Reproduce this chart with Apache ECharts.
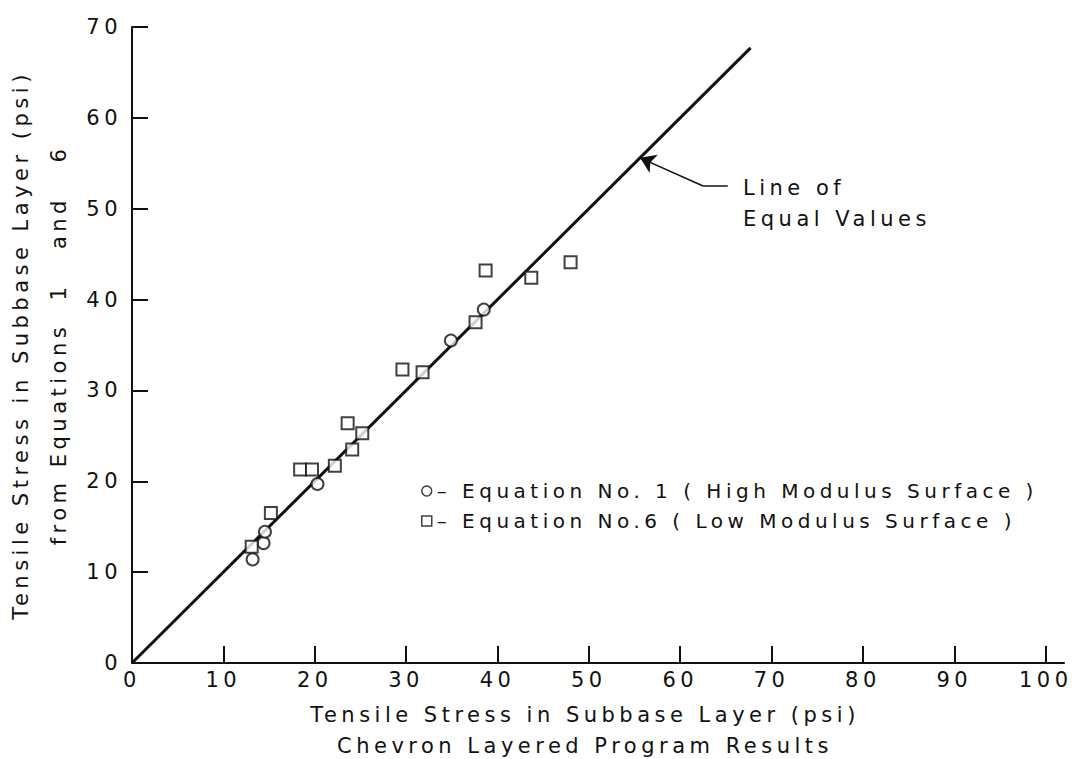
<!DOCTYPE html>
<html>
<head>
<meta charset="utf-8">
<script src="https://cdn.jsdelivr.net/npm/echarts@6/dist/echarts.min.js"></script>
<style>
  html, body { margin: 0; padding: 0; background: #fff; }
  #chart { width: 1087px; height: 759px; letter-spacing: 4.5px; }
</style>
</head>
<body>
<div id="chart"></div>
<script>
// Axis ticks
const xTicks = [0, 10, 20, 30, 40, 50, 60, 70, 80, 90, 100];
const yTicks = [0, 10, 20, 30, 40, 50, 60, 70];

// Equation No. 1 (High Modulus Surface): Chevron result vs equation result, psi
const eq1Chevron = [13.2, 14.4, 14.55, 20.3, 34.9, 38.5];
const eq1Equation = [11.4, 13.2, 14.45, 19.7, 35.5, 38.9];

// Equation No. 6 (Low Modulus Surface)
const eq6Chevron = [13.1, 15.2, 18.4, 19.7, 22.2, 24.1, 25.2, 23.6, 29.6, 31.8, 37.6, 38.7, 43.7, 48.0];
const eq6Equation = [12.8, 16.5, 21.3, 21.3, 21.7, 23.5, 25.3, 26.4, 32.3, 32.0, 37.5, 43.2, 42.4, 44.1];

// Line of equal values (y = x)
const equalLineX = [0, 67.7];

// Leader for the "Line of Equal Values" note: a short horizontal tail, then the arrow
const leaderTailX = [65.2, 62.5];
const leaderTailY = [52.5, 52.5];
const leaderArrowX = [62.5, 55.6];
const leaderArrowY = [52.5, 55.6];

const seriesNames = [
  'Equation No. 1 ( High Modulus Surface )',
  'Equation No.6 ( Low Modulus Surface )'
];

const pairs = (xs, ys) => xs.map((x, i) => [x, ys[i]]);

const FONT = 'DejaVu Sans';
const INK = '#111';

const chart = echarts.init(document.getElementById('chart'), null, { renderer: 'svg' });

const markerStyle = { color: '#fff', borderColor: INK, borderWidth: 2 };

chart.setOption({
  animation: false,
  backgroundColor: '#fff',
  textStyle: { fontFamily: FONT, color: INK },
  grid: { left: 132, right: 23, top: 27, bottom: 96, containLabel: false, outerBoundsMode: 'none' },
  xAxis: {
    type: 'value',
    min: 0,
    max: 102,
    interval: 10,
    name: 'Tensile Stress in Subbase Layer (psi)\nChevron Layered Program Results',
    nameLocation: 'middle',
    nameGap: 36,
    nameTextStyle: { fontFamily: FONT, fontSize: 21, color: INK, lineHeight: 31, padding: [0, 26, 0, 0] },
    axisLine: { show: true, onZero: false, lineStyle: { color: INK, width: 2 } },
    axisTick: { show: true, inside: true, length: 17, lineStyle: { color: INK, width: 2 }, customValues: xTicks },
    axisLabel: { fontFamily: FONT, fontSize: 21, color: INK, margin: 6, customValues: xTicks },
    splitLine: { show: false }
  },
  yAxis: {
    type: 'value',
    min: 0,
    max: 70,
    interval: 10,
    name: 'Tensile Stress in Subbase Layer (psi)\nfrom Equations  1   and   6',
    nameLocation: 'middle',
    nameRotate: 90,
    nameGap: 54,
    nameTextStyle: { fontFamily: FONT, fontSize: 21, color: INK, lineHeight: 38 },
    axisLine: { show: true, onZero: false, lineStyle: { color: INK, width: 2 } },
    axisTick: { show: true, inside: true, length: 16, lineStyle: { color: INK, width: 2 } },
    axisLabel: { fontFamily: FONT, fontSize: 21, color: INK, margin: 10 },
    splitLine: { show: false }
  },
  legend: {
    orient: 'vertical',
    left: 416,
    top: 475,
    itemWidth: 10,
    itemHeight: 10,
    itemGap: 8,
    data: seriesNames,
    formatter: n => '– ' + n,
    textStyle: { fontFamily: FONT, fontSize: 20, color: INK, lineHeight: 22 },
    itemStyle: { color: '#fff', borderColor: INK, borderWidth: 1.5 }
  },
  graphic: [
    { type: 'text', left: 743, top: 177, style: { text: 'Line of', font: '21px "DejaVu Sans"', fill: INK } },
    { type: 'text', left: 743, top: 208, style: { text: 'Equal Values', font: '21px "DejaVu Sans"', fill: INK } }
  ],
  series: [
    {
      type: 'line',
      data: equalLineX.map(v => [v, v]),
      symbol: 'none',
      lineStyle: { color: INK, width: 3 },
      z: 2,
      silent: true
    },
    {
      type: 'lines',
      coordinateSystem: 'cartesian2d',
      symbol: ['none', 'none'],
      data: [{ coords: pairs(leaderTailX, leaderTailY) }],
      lineStyle: { color: INK, width: 1.5, opacity: 1 },
      z: 3,
      silent: true
    },
    {
      type: 'lines',
      coordinateSystem: 'cartesian2d',
      symbol: ['none', 'arrow'],
      symbolSize: [9, 15],
      data: [{ coords: pairs(leaderArrowX, leaderArrowY) }],
      lineStyle: { color: INK, width: 1.5, opacity: 1 },
      z: 3,
      silent: true
    },
    {
      name: seriesNames[0],
      type: 'scatter',
      symbol: 'circle',
      symbolSize: 12,
      data: pairs(eq1Chevron, eq1Equation),
      itemStyle: markerStyle,
      z: 5
    },
    {
      name: seriesNames[1],
      type: 'scatter',
      symbol: 'rect',
      symbolSize: 12,
      data: pairs(eq6Chevron, eq6Equation),
      itemStyle: markerStyle,
      z: 5
    }
  ]
});
</script>
</body>
</html>
